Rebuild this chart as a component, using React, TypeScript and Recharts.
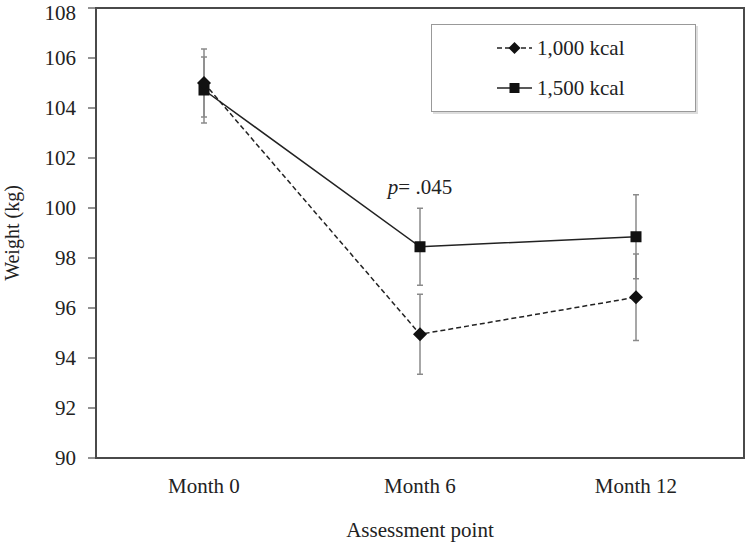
// App.tsx — weight by assessment point, 1,000 vs 1,500 kcal
import {
  LineChart, Line, XAxis, YAxis, ErrorBar, ReferenceArea, ReferenceDot,
} from 'recharts';

const months = ['Month 0', 'Month 6', 'Month 12'];
const kcal1000 = [105.0, 94.95, 96.43];
const err1000 = [1.36, 1.6, 1.73];
const kcal1500 = [104.72, 98.45, 98.85];
const err1500 = [1.32, 1.54, 1.68];
const yTicks = [90, 92, 94, 96, 98, 100, 102, 104, 106, 108];
const boundaryTicks = [0, 1, 2, 3];

const data = months.map((m, i) => ({
  month: m,
  k1000: kcal1000[i],
  e1000: err1000[i],
  k1500: kcal1500[i],
  e1500: err1500[i],
}));

const INK = '#222';
const AXIS = '#4a4a4a';
const FONT = 'Liberation Serif';

const Diamond = (props: any) => {
  const { cx, cy } = props;
  if (cx == null || cy == null) return null;
  const r = 7;
  return <path d={`M${cx},${cy - r}L${cx + r},${cy}L${cx},${cy + r}L${cx - r},${cy}Z`} fill="#111" />;
};

const Square = (props: any) => {
  const { cx, cy } = props;
  if (cx == null || cy == null) return null;
  const s = 11;
  return <rect x={cx - s / 2} y={cy - s / 2} width={s} height={s} fill="#111" />;
};

const PLabel = (props: any) => {
  const { viewBox } = props;
  const x = viewBox.x + (viewBox.width || 0) / 2;
  const y = viewBox.y + (viewBox.height || 0) / 2;
  return (
    <text x={x} y={y} textAnchor="middle" dominantBaseline="central" fontSize={21} fill={INK} fontFamily={FONT}>
      <tspan fontStyle="italic">p</tspan>
      <tspan>= .045</tspan>
    </text>
  );
};

function LegendBox() {
  const row = (dashed: boolean, label: string) => (
    <div style={{ display: 'flex', alignItems: 'center', height: 40 }}>
      <svg width={40} height={16} style={{ marginLeft: 65 }}>
        <line x1={0} y1={8} x2={35} y2={8} stroke={INK} strokeWidth={1.5}
          strokeDasharray={dashed ? '5 3' : undefined} />
        {dashed
          ? <path d="M17.5,2L23.5,8L17.5,14L11.5,8Z" fill="#111" />
          : <rect x={12.5} y={3} width={10} height={10} fill="#111" />}
      </svg>
      <span style={{ fontSize: 21, color: INK, fontFamily: FONT }}>{label}</span>
    </div>
  );
  return (
    <div style={{
      position: 'absolute', left: 431, top: 24, width: 263, height: 83,
      border: '1.5px solid #999', background: '#fff', boxShadow: '2px 2px 0 #ddd',
      paddingTop: 3, boxSizing: 'content-box',
    }}>
      {row(true, '1,000 kcal')}
      {row(false, '1,500 kcal')}
    </div>
  );
}

const tickStyle = { fontSize: 21, fill: INK, fontFamily: FONT };

export default function App() {
  return (
    <div style={{ position: 'absolute', left: 0, top: 0, width: 747, height: 542, fontFamily: FONT, background: '#fff' }}>
      <LineChart width={747} height={542} data={data} margin={{ top: 8, right: 3, left: 0, bottom: 0 }}>
        <XAxis xAxisId="edges" type="number" domain={[0, 3]} ticks={boundaryTicks} tick={false}
          axisLine={false} tickLine={{ stroke: AXIS, strokeWidth: 1.2 }} tickSize={6} height={0} />
        <XAxis
          dataKey="month"
          scale="band"
          tickLine={false}
          tickSize={0}
          tickMargin={20}
          axisLine={{ stroke: AXIS, strokeWidth: 2 }}
          tick={tickStyle}
          height={84}
          label={{ value: 'Assessment point', position: 'insideBottom', offset: 5, ...tickStyle }}
        />
        <YAxis
          domain={[90, 108]}
          ticks={yTicks}
          width={96}
          tickSize={8}
          tickMargin={12}
          axisLine={{ stroke: AXIS, strokeWidth: 2 }}
          tickLine={{ stroke: AXIS, strokeWidth: 1.2 }}
          tick={tickStyle}
          label={{ value: 'Weight (kg)', angle: -90, position: 'insideLeft', offset: 12, style: { textAnchor: 'middle' }, fontSize: 20, fill: INK, fontFamily: FONT }}
        />
        <ReferenceArea x1="Month 0" x2="Month 12" y1={90} y2={108} fill="none" stroke={AXIS} strokeWidth={2} fillOpacity={0} />
        <Line dataKey="k1500" stroke={INK} strokeWidth={1.5} dot={<Square />} activeDot={false} isAnimationActive={false}>
          <ErrorBar dataKey="e1500" direction="y" width={3} stroke="#8a8a8a" strokeWidth={1.5} />
        </Line>
        <Line dataKey="k1000" stroke={INK} strokeWidth={1.5} strokeDasharray="5 3" dot={<Diamond />} activeDot={false} isAnimationActive={false}>
          <ErrorBar dataKey="e1000" direction="y" width={3} stroke="#8a8a8a" strokeWidth={1.5} />
        </Line>
        <ReferenceDot x="Month 6" y={100.84} r={0} stroke="none" fill="none" label={<PLabel />} />
      </LineChart>
      <LegendBox />
    </div>
  );
}
